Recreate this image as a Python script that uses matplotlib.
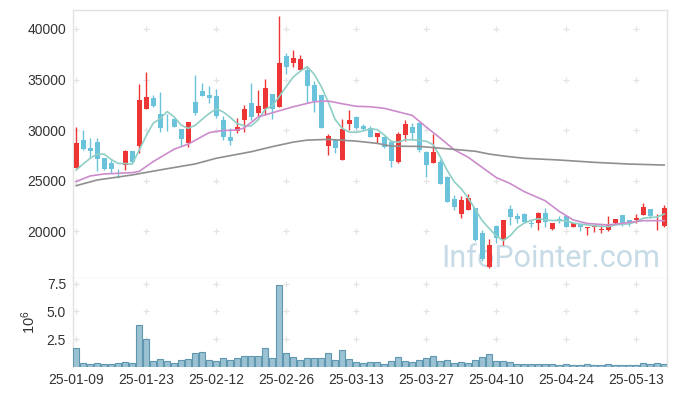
import numpy as np
import pandas as pd
import matplotlib
matplotlib.use("Agg")
import matplotlib.pyplot as plt

# ---------------- data ----------------
opens = [26270, 29011, 28219, 28813, 27196, 26734, 26150, 26536, 27922, 28417,
         32113, 33169, 31585, 30430, 31057, 30100, 28747, 32773, 33862, 33466,
         33367, 30991, 29340, 29935, 30991, 32641, 31651, 32047, 33549, 32311,
         37327, 36667, 35941, 35941, 34456, 33466, 28430, 29011, 27031, 30595,
         31290, 30397, 30200, 29275, 29260, 28846, 26866, 29540, 30300, 30690,
         27806, 26701, 26835, 25350, 23170, 21720, 22120, 22300, 19850, 16471,
         20497, 19111, 22180, 21487, 21685, 20827, 20761, 21817, 20167, 21190,
         21487, 20365, 20695, 20266, 20365, 20150, 20101, 20761, 21553, 21091,
         21091, 21553, 22180, 21000, 20450]
highs = [30330, 30001, 29176, 29176, 27250, 27031, 26150, 28021, 27922, 34555,
         35710, 33466, 33796, 31585, 31200, 30100, 30793, 35446, 34687, 34357,
         34100, 31387, 30166, 31156, 32476, 34637, 33961, 35017, 33549, 41287,
         37600, 37900, 37459, 36373, 34900, 33466, 29590, 29011, 31057, 31980,
         31400, 30600, 30400, 29737, 29400, 29000, 29830, 30991, 30700, 30800,
         27950, 29590, 27100, 25400, 23570, 23500, 23700, 22300, 20101, 19210,
         20560, 21091, 22576, 21750, 21750, 21091, 21900, 22246, 20827, 21487,
         21487, 20761, 20695, 20431, 20596, 20596, 21500, 21157, 21553, 21091,
         21652, 22741, 22180, 21650, 22600]
lows = [26200, 28000, 27361, 25942, 26050, 25711, 25216, 26041, 26700, 27691,
        32113, 32245, 29836, 29935, 30331, 28417, 28285, 31486, 33400, 32707,
        31160, 29011, 28516, 29668, 29836, 30991, 31387, 31486, 31123, 32311,
        35530, 36240, 35941, 32640, 31780, 30232, 27526, 27691, 27031, 30000,
        30100, 30000, 29260, 28700, 28200, 26340, 26700, 28960, 29000, 27850,
        25300, 26701, 24690, 22905, 22080, 21256, 22120, 19000, 17050, 16300,
        18781, 18616, 20596, 20761, 20827, 20431, 20101, 20431, 20101, 20761,
        20365, 20365, 20035, 19606, 19936, 19837, 20035, 20695, 20497, 20497,
        20761, 21553, 21256, 20101, 20400]
closes = [28747, 28087, 27955, 27163, 26107, 26107, 26100, 27922, 26866, 32971,
          33235, 32377, 30166, 30380, 30331, 29143, 30793, 31651, 33400, 33202,
          31387, 29340, 28945, 30331, 32080, 31321, 32377, 34126, 32080, 36601,
          36271, 37100, 37000, 34357, 32905, 30232, 29407, 28252, 30067, 30991,
          30166, 30067, 29260, 29737, 28351, 26965, 29590, 30595, 29671, 28021,
          26570, 27856, 24690, 22905, 22410, 23071, 23300, 19111, 17230, 18616,
          19276, 21091, 21421, 21190, 20926, 20695, 21817, 20926, 20827, 21025,
          20431, 20761, 20365, 20431, 20596, 20200, 20596, 21157, 20827, 20761,
          21256, 22345, 21520, 21050, 22250]
# volume in millions of shares
volumes = [1.71, 0.36, 0.24, 0.36, 0.24, 0.24, 0.36, 0.45, 0.36, 3.75,
           2.52, 0.54, 0.72, 0.54, 0.36, 0.63, 0.72, 1.23, 1.32, 0.63,
           0.54, 0.81, 0.63, 0.81, 0.96, 0.96, 0.96, 1.71, 0.81, 7.39,
           1.23, 0.90, 0.63, 0.81, 0.81, 0.81, 1.23, 0.63, 1.50, 0.72,
           0.45, 0.36, 0.42, 0.42, 0.30, 0.51, 0.87, 0.51, 0.42, 0.60,
           0.78, 0.96, 0.51, 0.60, 0.33, 0.42, 0.33, 0.60, 0.87, 1.14,
           0.51, 0.51, 0.42, 0.24, 0.24, 0.24, 0.24, 0.24, 0.24, 0.15,
           0.24, 0.15, 0.15, 0.24, 0.15, 0.15, 0.24, 0.15, 0.15, 0.15,
           0.15, 0.33, 0.24, 0.33, 0.24]

# first four 5-day MA values (depend on data before the window)
ma5_head = [26041, 26635, 27196, 27625]
# 20-day and 60-day moving averages read at selected trading-day indices
ma20_idx = [0, 2, 4, 8, 9, 11, 14, 16, 19, 21, 23, 24, 26, 28, 31, 34, 36, 38, 40, 42,
            44, 46, 48, 50, 52, 54, 56, 58, 60, 62, 64, 67, 69, 71, 73, 76, 79, 81, 84]
ma20_val = [24900, 25450, 25650, 25780, 25900, 26870, 28100, 28600, 29740, 29950,
            30000, 30200, 31300, 31700, 32300, 32800, 32870, 32600, 32350, 32300,
            32150, 31800, 31450, 30300, 29200, 28050, 27300, 26300, 25300, 24700,
            23900, 23000, 21950, 21100, 20750, 20600, 20850, 21025, 21025]
ma60_idx = [0, 3, 8, 12, 17, 20, 25, 28, 31, 33, 36, 40, 43, 45, 49, 54, 57, 59, 61,
            64, 69, 74, 79, 84]
ma60_val = [24490, 25050, 25550, 26050, 26640, 27200, 27850, 28350, 28800, 29000,
            29070, 28900, 28680, 28400, 28380, 28080, 27900, 27620, 27430, 27200,
            27030, 26800, 26630, 26530]

tick_idx = [0, 10, 20, 30, 40, 50, 60, 70, 80]
tick_labels = ['25-01-09', '25-01-23', '25-02-12', '25-02-26', '25-03-13',
               '25-03-27', '25-04-10', '25-04-24', '25-05-13']
price_ticks = [20000, 25000, 30000, 35000, 40000]
vol_ticks = [2.5, 5.0, 7.5]

# ---------------- style ----------------
plt.rcParams['font.family'] = ['Liberation Sans', 'DejaVu Sans']
UP = '#ee3535'
DOWN = '#6ac3da'
SPINE = '#e2e2e2'
TXT = '#333333'

o = np.array(opens, float)
h = np.array(highs, float)
l = np.array(lows, float)
c = np.array(closes, float)
v = np.array(volumes, float)
x = np.arange(len(o))

ma5 = pd.Series(c).rolling(5).mean().to_numpy()
ma5[:len(ma5_head)] = ma5_head

fig = plt.figure(figsize=(6.77, 3.96), dpi=100)
axp = fig.add_axes([73 / 677, 1 - 278 / 396, 594 / 677, 268 / 396])
axv = fig.add_axes([73 / 677, 1 - 367 / 396, 594 / 677, 89 / 396], sharex=axp)

up = c >= o
cols = np.where(up, UP, DOWN)
axp.vlines(x, l, h, colors=cols, linewidth=1.0, zorder=3)
axp.bar(x, np.abs(c - o) + 1, bottom=np.minimum(o, c), width=0.7,
        color=cols, linewidth=0, zorder=4)

axp.plot(x, ma5, color='#8fcfc6', lw=1.2, zorder=5)
axp.plot(ma20_idx, ma20_val, color='#cc8ccc', lw=1.2, zorder=5)
axp.plot(ma60_idx, ma60_val, color='#8f8f8f', lw=1.2, zorder=5)

axp.text(0.805, 0.041, 'InfoPointer.com', fontsize=22,
         family=['Roboto', 'DejaVu Sans'],
         color='#c6dbe5', ha='center', va='baseline', zorder=2,
         transform=axp.transAxes)

axv.bar(x, v, width=0.9, color='#9bc2d2', edgecolor='#5f97b0', linewidth=0.8, zorder=3)

axp.set_xlim(-0.45, 84.4)
axp.set_ylim(15350, 41880)
axv.set_ylim(0, 8.0)

axp.set_yticks(price_ticks)
axp.set_yticklabels([str(t) for t in price_ticks])
axv.set_yticks(vol_ticks)
axv.set_yticklabels(['%.1f' % t for t in vol_ticks])
axv.set_xticks(tick_idx)
axv.set_xticklabels(tick_labels)
axv.set_ylabel(r'$\mathregular{10^6}$', fontsize=10.5, color=TXT, labelpad=6)

# grid crosses at tick intersections
gx, gy = np.meshgrid(tick_idx, price_ticks)
axp.plot(gx.ravel(), gy.ravel(), '+', color='#e4e4e4', ms=4, mew=0.9, zorder=1)
gx, gy = np.meshgrid(tick_idx, vol_ticks)
axv.plot(gx.ravel(), gy.ravel(), '+', color='#e4e4e4', ms=4, mew=0.9, zorder=1)

for ax in (axp, axv):
    for s in ax.spines.values():
        s.set_color(SPINE)
        s.set_linewidth(1.0)
    ax.tick_params(length=0, colors=TXT, labelsize=10, pad=5)
axv.spines['bottom'].set_visible(False)
axv.spines['top'].set_visible(False)
axp.tick_params(axis='x', labelbottom=False)
axv.tick_params(axis='x', pad=4)

fig.savefig('out.png', dpi=100)
